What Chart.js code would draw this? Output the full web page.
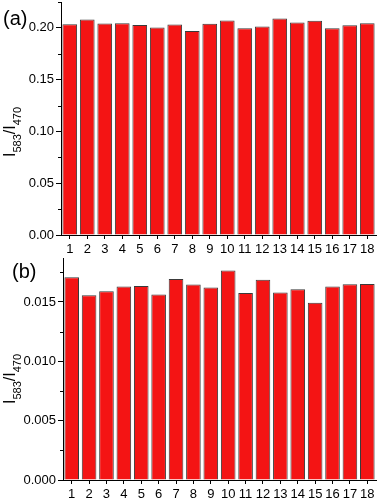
<!DOCTYPE html>
<html>
<head>
<meta charset="utf-8">
<script src="https://cdn.jsdelivr.net/npm/chart.js@4/dist/chart.umd.min.js"></script>
<style>
  html, body { margin: 0; padding: 0; background: #fff; }
  #wrap { position: relative; width: 378px; height: 500px; }
  canvas { position: absolute; left: 0; }
</style>
</head>
<body>
<div id="wrap">
  <canvas id="chartA" width="378" height="256" style="top:0"></canvas>
  <canvas id="chartB" width="378" height="244" style="top:256px"></canvas>
</div>
<script>
// sample numbers 1..18
const samples = ["1","2","3","4","5","6","7","8","9","10","11","12","13","14","15","16","17","18"];

// panel (a) ratio values
const ratioA = [0.2036, 0.2080, 0.2042, 0.2045, 0.2029, 0.2003, 0.2032, 0.1971, 0.2039,
                0.2071, 0.1997, 0.2013, 0.2090, 0.2051, 0.2068, 0.1997, 0.2026, 0.2045];
// panel (b) ratio values
const ratioB = [0.01708, 0.01556, 0.01590, 0.01629, 0.01635, 0.01562, 0.01694, 0.01646, 0.01621,
                0.01765, 0.01576, 0.01686, 0.01579, 0.01607, 0.01494, 0.01629, 0.01649, 0.01652];

const ticksA = [0, 0.05, 0.10, 0.15, 0.20];
const ticksB = [0, 0.005, 0.010, 0.015];

const FONT = "'Liberation Sans', Arial, sans-serif";

// draws the small in-between ticks, the y title with subscripts and the panel letter
function panelDecor(id, opts) {
  return {
    id: id,
    afterDraw(chart) {
      const ctx = chart.ctx;
      const y = chart.scales.y;
      const left = chart.chartArea.left;
      ctx.save();
      ctx.strokeStyle = "#000";
      ctx.lineWidth = 1;
      for (let i = 0; i < opts.ticks.length; i++) {
        const v = opts.ticks[i] + opts.step / 2;
        if (v > y.max) continue;
        const py = Math.round(y.getPixelForValue(v)) + 0.5;
        ctx.beginPath();
        ctx.moveTo(left - 3, py);
        ctx.lineTo(left, py);
        ctx.stroke();
      }

      // y title  I583/I470
      ctx.fillStyle = "#000";
      ctx.translate(opts.titleX, opts.titleY);
      ctx.rotate(-Math.PI / 2);
      const parts = [["I", 16, 0], ["583", 11, 6], ["/I", 16, 0], ["470", 11, 6]];
      let total = 0;
      parts.forEach(p => { ctx.font = p[1] + "px " + FONT; total += ctx.measureText(p[0]).width; });
      let x = -total / 2;
      ctx.textBaseline = "alphabetic";
      parts.forEach(p => {
        ctx.font = p[1] + "px " + FONT;
        ctx.fillText(p[0], x, p[2]);
        x += ctx.measureText(p[0]).width;
      });
      ctx.restore();

      ctx.save();
      ctx.fillStyle = "#000";
      ctx.font = "20px " + FONT;
      ctx.textBaseline = "alphabetic";
      ctx.fillText(opts.letter, opts.letterX, opts.letterY);
      ctx.restore();
    }
  };
}

function makeChart(canvasId, data, cfg) {
  new Chart(document.getElementById(canvasId), {
    type: "bar",
    data: {
      labels: samples,
      datasets: [{
        data: data,
        backgroundColor: "#f41414",
        borderColor: "#3a3a3a",
        borderWidth: 1,
        barPercentage: 0.84,
        categoryPercentage: 1.0
      }]
    },
    options: {
      responsive: false,
      animation: false,
      devicePixelRatio: 1,
      layout: { padding: { top: 2, right: 2, left: 0, bottom: 0 } },
      plugins: { legend: { display: false }, tooltip: { enabled: false } },
      scales: {
        x: {
          grid: { display: true, drawOnChartArea: false, offset: false, color: "#000", tickLength: 4 },
          border: { color: "#000", width: 1 },
          ticks: { color: "#000", font: { family: FONT, size: 13 }, padding: 3, autoSkip: false, maxRotation: 0 },
          afterFit(scale) {
            scale.height = cfg.xHeight;
            scale.paddingLeft = 0;
            scale.paddingRight = 0;
          }
        },
        y: {
          min: 0,
          max: cfg.max,
          grid: { display: true, drawOnChartArea: false, color: "#000", tickLength: 5 },
          border: { color: "#000", width: 1 },
          ticks: {
            color: "#000",
            font: { family: FONT, size: 13 },
            padding: 2,
            callback: v => v.toFixed(cfg.digits)
          },
          afterBuildTicks(scale) {
            scale.ticks = cfg.ticks.map(v => ({ value: v }));
          },
          afterFit(scale) {
            scale.width = cfg.yWidth;
            scale.paddingTop = 0;
            scale.paddingBottom = 0;
          }
        }
      }
    },
    plugins: [panelDecor(canvasId + "Decor", cfg)]
  });
}

makeChart("chartA", ratioA, {
  max: 0.225, digits: 2, ticks: ticksA, step: 0.05,
  xHeight: 21, yWidth: 61,
  titleX: 15, titleY: 132, letter: "(a)", letterX: 3, letterY: 25
});

makeChart("chartB", ratioB, {
  max: 0.0187, digits: 3, ticks: ticksB, step: 0.005,
  xHeight: 20, yWidth: 63,
  titleX: 15, titleY: 123, letter: "(b)", letterX: 12, letterY: 22
});
</script>
</body>
</html>
